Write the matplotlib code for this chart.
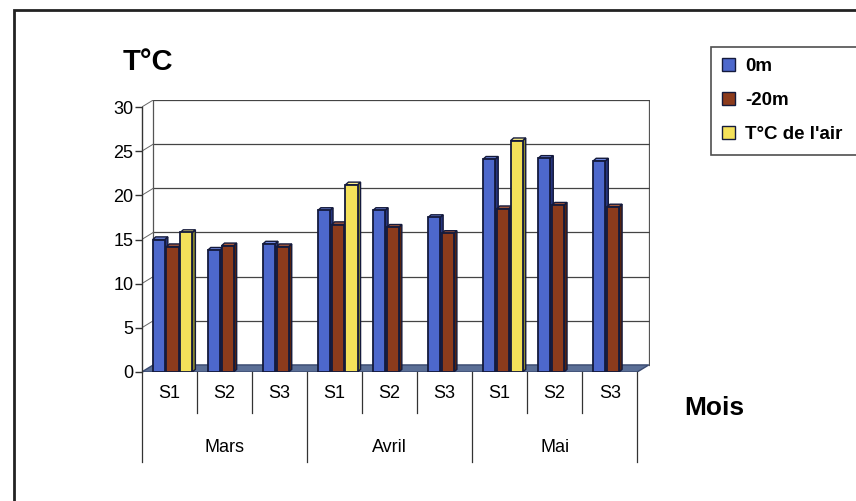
import numpy as np
import matplotlib
matplotlib.use("Agg")
import matplotlib.pyplot as plt
from matplotlib.patches import Polygon, Rectangle, Patch

plt.rcParams['font.family'] = ['Liberation Sans', 'DejaVu Sans']

# ---- data ----
weeks = ["S1", "S2", "S3", "S1", "S2", "S3", "S1", "S2", "S3"]
months = ["Mars", "Avril", "Mai"]
series_names = ["0m", "-20m", "T°C de l'air"]
temp_0m = [15.0, 13.8, 14.5, 18.3, 18.3, 17.5, 24.1, 24.2, 23.9]
temp_m20 = [14.2, 14.3, 14.2, 16.7, 16.4, 15.7, 18.5, 18.9, 18.7]
temp_air = [15.8, np.nan, np.nan, 21.2, np.nan, np.nan, 26.2, np.nan, np.nan]
yticks = [0, 5, 10, 15, 20, 25, 30]

# ---- style ----
front_cols = ["#4d68cc", "#8c3b1c", "#f4e15a"]
side_cols = ["#26357f", "#55220e", "#8f8d2c"]
top_cols = ["#7088dd", "#a85a3a", "#fbf08a"]
edge = "#141a3c"
offsets = [-0.19, 0.06, 0.31]
bw = 0.22
sdx, sdy = 0.055, 0.3     # bar depth
wdx, wdy = 0.21, 0.8      # wall depth

fig = plt.figure(figsize=(8.56, 5.01), dpi=100)
ax = fig.add_axes([141.7 / 856, 1 - 372 / 501, 508.2 / 856, 272 / 501])
ax.set_xlim(-0.5, 8.5 + wdx + 0.02)
ax.set_ylim(0, 30 + wdy)
for s in ["top", "right", "bottom"]:
    ax.spines[s].set_visible(False)
ax.spines["left"].set_bounds(0, 30)
ax.spines["left"].set_color("#333333")
ax.spines["left"].set_linewidth(1.0)
ax.set_yticks(yticks)
ax.set_yticklabels([str(t) for t in yticks], fontsize=13)
ax.tick_params(axis="y", length=5, width=1, color="#333333", pad=1)
ax.set_xticks([])
ax.patch.set_alpha(0)

n = len(weeks)
x = np.arange(n)
x0, x1 = -0.5, n - 0.5

# back wall
ax.plot([x0 + wdx, x0 + wdx], [wdy, 30 + wdy], color="#555555", lw=0.9, zorder=1)
ax.plot([x1 + wdx, x1 + wdx], [wdy, 30 + wdy], color="#555555", lw=0.9, zorder=1)
for t in yticks[1:]:
    ax.plot([x0 + wdx, x1 + wdx], [t + wdy, t + wdy], color="#444444", lw=0.9, zorder=1)
    ax.plot([x0, x0 + wdx], [t, t + wdy], color="#666666", lw=0.7, zorder=1)

# floor
ax.add_patch(Polygon([[x0, 0], [x1, 0], [x1 + wdx, wdy], [x0 + wdx, wdy]],
                     closed=True, facecolor="#5b6f96", edgecolor="#3a4a70", lw=1, zorder=2))

# bars
for si, vals in enumerate([temp_0m, temp_m20, temp_air]):
    vals = np.array(vals, dtype=float)
    pos = x + offsets[si]
    ax.bar(pos, vals, width=bw, color=front_cols[si], edgecolor=edge, linewidth=1.3, zorder=4)
    for p, v in zip(pos, vals):
        if np.isnan(v):
            continue
        r = p + bw / 2
        l = p - bw / 2
        ax.add_patch(Polygon([[r, 0], [r + sdx, sdy], [r + sdx, v + sdy], [r, v]], closed=True,
                             facecolor=side_cols[si], edgecolor=edge, lw=1.0, zorder=3))
        ax.add_patch(Polygon([[l, v], [l + sdx, v + sdy], [r + sdx, v + sdy], [r, v]], closed=True,
                             facecolor=top_cols[si], edgecolor=edge, lw=1.0, zorder=3))

# multi-level category axis
for i, w in enumerate(weeks):
    ax.text(i, -2.4, w, ha="center", va="center", fontsize=13, clip_on=False)
for k in range(n + 1):
    xb = k - 0.5
    depth = -10.2 if k % 3 == 0 else -4.6
    ax.plot([xb, xb], [0, depth], color="#333333", lw=0.9, clip_on=False)
for j, m in enumerate(months):
    ax.text(3 * j + 1, -8.5, m, ha="center", va="center", fontsize=13, clip_on=False)

# titles
fig.text(148 / 856, 1 - 62 / 501, "T°C", fontsize=21, fontweight="bold", ha="center", va="center")
fig.text(714 / 856, 1 - 408 / 501, "Mois", fontsize=19, fontweight="bold", ha="center", va="center")

# legend
handles = [Patch(facecolor=front_cols[i], edgecolor=edge, linewidth=1.0) for i in range(3)]
leg = fig.legend(handles, series_names, loc="upper left",
                 bbox_to_anchor=(711 / 856, 1 - 157 / 501, 0.6, 110 / 501),
                 mode="expand", borderaxespad=0, frameon=True, fancybox=False,
                 prop={"size": 13.5, "weight": "bold"}, handlelength=0.7, handleheight=0.7,
                 handletextpad=0.5, labelspacing=0.9, borderpad=0.6)
leg.get_frame().set_edgecolor("#222222")
leg.get_frame().set_linewidth(1.2)

# outer frame
fig.add_artist(Rectangle((14 / 856, -0.1), 1.2, 1.1 - 10 / 501, transform=fig.transFigure,
                         fill=False, edgecolor="#222222", linewidth=2))

fig.savefig("out.png", dpi=100, facecolor="white")
